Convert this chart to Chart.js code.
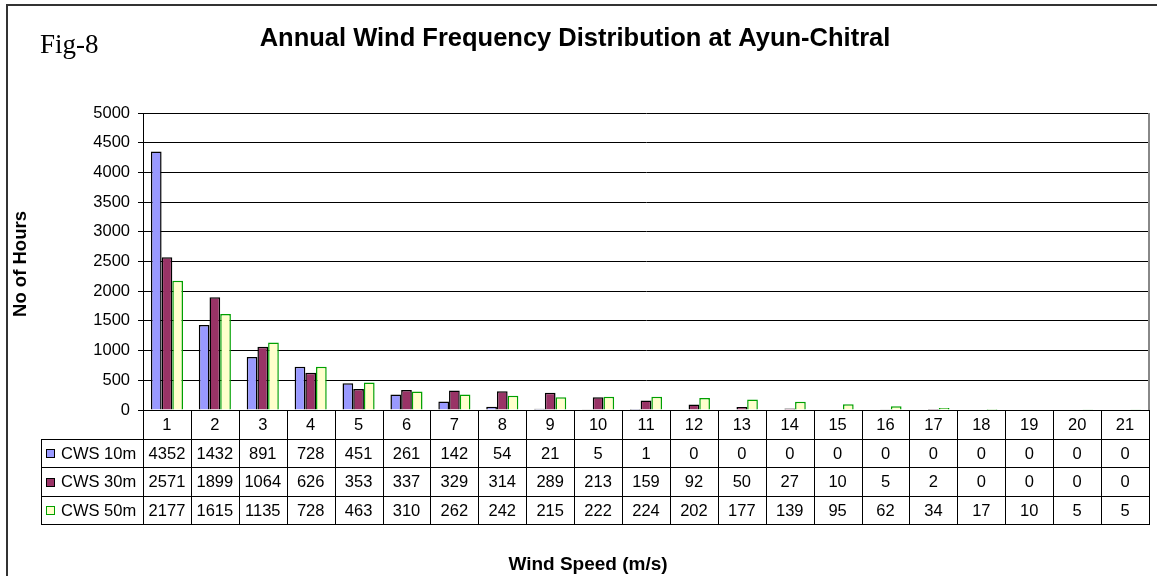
<!DOCTYPE html>
<html>
<head>
<meta charset="utf-8">
<title>Annual Wind Frequency Distribution at Ayun-Chitral</title>
<script src="https://cdn.jsdelivr.net/npm/chart.js@4/dist/chart.umd.min.js"></script>
<style>
  html, body { margin: 0; padding: 0; background: #fff; }
  #wrap { width: 1162px; height: 576px; }
</style>
</head>
<body>
<div id="wrap"><canvas id="c" width="1162" height="576"></canvas></div>
<script>
// Wind speed bins (m/s)
const speeds = ['1','2','3','4','5','6','7','8','9','10','11','12','13','14','15','16','17','18','19','20','21'];
// Hours per year in each bin, by measurement height
const cws10 = [4352,1432,891,728,451,261,142,54,21,5,1,0,0,0,0,0,0,0,0,0,0];
const cws30 = [2571,1899,1064,626,353,337,329,314,289,213,159,92,50,27,10,5,2,0,0,0,0];
const cws50 = [2177,1615,1135,728,463,310,262,242,215,222,224,202,177,139,95,62,34,17,10,5,5];
const seriesNames = ['CWS 10m','CWS 30m','CWS 50m'];
const yTicks = [0,500,1000,1500,2000,2500,3000,3500,4000,4500,5000];

const SANS = '"Liberation Sans", Arial, sans-serif';
const SERIF = '"Liberation Serif", "Times New Roman", serif';

const fills = ['#9999FF','#993366','#FFFFCC'];
const edges = ['#000000','#000000','#00A000'];

// Frame, headings and the data table below the plot
const decor = {
  id: 'decor',
  afterDraw(chart) {
    const ctx = chart.ctx;
    const area = chart.chartArea;
    const xs = chart.scales.x;
    const n = speeds.length;
    const step = (area.right - area.left) / n;
    const tableLeft = 41;
    const rowH = 28.6;
    const rows = [0, 1, 2, 3, 4].map(k => Math.round(area.bottom + k * rowH));

    ctx.save();
    // outer frame
    ctx.strokeStyle = '#333';
    ctx.lineWidth = 2;
    ctx.beginPath();
    ctx.moveTo(7, 576); ctx.lineTo(7, 5); ctx.lineTo(1157, 5);
    ctx.stroke();

    // plot area right edge
    ctx.strokeStyle = '#888';
    ctx.lineWidth = 2;
    ctx.beginPath();
    ctx.moveTo(area.right, area.top); ctx.lineTo(area.right, area.bottom);
    ctx.stroke();

    // table grid
    ctx.strokeStyle = '#000';
    ctx.lineWidth = 1;
    ctx.beginPath();
    ctx.moveTo(area.left, rows[0] + 0.5); ctx.lineTo(area.right, rows[0] + 0.5);
    for (let r = 1; r < rows.length; r++) {
      ctx.moveTo(tableLeft, rows[r] + 0.5); ctx.lineTo(area.right, rows[r] + 0.5);
    }
    for (let i = 0; i <= n; i++) {
      const x = Math.round(area.left + i * step) + 0.5;
      ctx.moveTo(x, rows[0]); ctx.lineTo(x, rows[4] + 1);
    }
    ctx.moveTo(tableLeft + 0.5, rows[1]); ctx.lineTo(tableLeft + 0.5, rows[4] + 1);
    ctx.stroke();

    // table text
    ctx.fillStyle = '#000';
    ctx.font = '16.5px ' + SANS;
    ctx.textAlign = 'center';
    ctx.textBaseline = 'middle';
    const series = [cws10, cws30, cws50];
    for (let i = 0; i < n; i++) {
      const cx = xs.getPixelForValue(i);
      ctx.fillText(speeds[i], cx, (rows[0] + rows[1]) / 2 + 1);
      for (let s = 0; s < 3; s++) {
        ctx.fillText(String(series[s][i]), cx, (rows[s+1] + rows[s+2]) / 2 + 1);
      }
    }
    // legend keys in the first column
    ctx.textAlign = 'left';
    for (let s = 0; s < 3; s++) {
      const cy = (rows[s+1] + rows[s+2]) / 2;
      ctx.fillStyle = fills[s];
      ctx.fillRect(46, Math.round(cy - 4), 9, 9);
      ctx.strokeStyle = edges[s];
      ctx.lineWidth = 1;
      ctx.strokeRect(46.5, Math.round(cy - 4) + 0.5, 8, 8);
      ctx.fillStyle = '#000';
      ctx.fillText(seriesNames[s], 61, cy + 1);
    }

    // headings
    ctx.font = '27px ' + SERIF;
    ctx.textAlign = 'left';
    ctx.textBaseline = 'alphabetic';
    ctx.fillText('Fig-8', 40, 53);

    ctx.font = 'bold 25.5px ' + SANS;
    ctx.textAlign = 'center';
    ctx.fillText('Annual Wind Frequency Distribution at Ayun-Chitral', 575, 46);

    ctx.font = 'bold 19px ' + SANS;
    ctx.fillText('Wind Speed (m/s)', 588, 570);

    ctx.save();
    ctx.translate(26, 264);
    ctx.rotate(-Math.PI / 2);
    ctx.font = 'bold 18.5px ' + SANS;
    ctx.fillText('No of Hours', 0, 0);
    ctx.restore();

    ctx.restore();
  }
};

new Chart(document.getElementById('c'), {
  type: 'bar',
  data: {
    labels: speeds,
    datasets: [
      { label: seriesNames[0], data: cws10, backgroundColor: fills[0], borderColor: edges[0], borderWidth: 1.5 },
      { label: seriesNames[1], data: cws30, backgroundColor: fills[1], borderColor: edges[1], borderWidth: 1.5 },
      { label: seriesNames[2], data: cws50, backgroundColor: fills[2], borderColor: edges[2], borderWidth: 1.5 }
    ]
  },
  options: {
    responsive: false,
    animation: false,
    devicePixelRatio: 1,
    categoryPercentage: 0.67,
    barPercentage: 1.0,
    layout: { padding: { left: 0, top: 113, right: 13, bottom: 166 } },
    plugins: {
      legend: { display: false },
      title: { display: false },
      tooltip: { enabled: false }
    },
    scales: {
      x: { display: false },
      y: {
        min: 0,
        max: 5000,
        afterBuildTicks(scale) { scale.ticks = yTicks.map(v => ({ value: v })); },
        afterFit(scale) { scale.width = 143; },
        border: { display: true, color: '#000', width: 1 },
        grid: { color: '#000', lineWidth: 1, tickLength: 5, drawTicks: true },
        ticks: {
          color: '#000',
          padding: 8,
          font: { family: SANS, size: 16.5 },
          callback: (v) => String(v)
        }
      }
    }
  },
  plugins: [decor]
});
</script>
</body>
</html>
